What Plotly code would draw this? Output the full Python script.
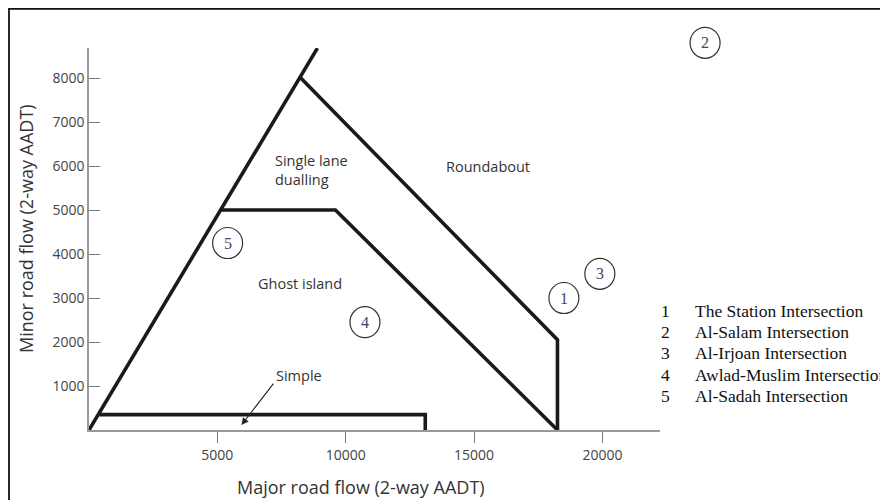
import plotly.graph_objects as go

# ---- data ----
diag_x = [0, 8900]
diag_y = [0, 8680]
round_x = [8250, 18250, 18250]
round_y = [8000, 2050, 0]
ghost_x = [5100, 9600, 18250]
ghost_y = [5000, 5000, 0]
simple_x = [400, 13100, 13100]
simple_y = [350, 350, 0]

site_ids = ["1", "2", "3", "4", "5"]
site_x = [18500, 24000, 19900, 10750, 5400]
site_y = [3000, 8800, 3550, 2450, 4250]
site_names = ["The Station Intersection", "Al-Salam Intersection", "Al-Irjoan Intersection",
              "Awlad-Muslim Intersection", "Al-Sadah Intersection"]

zone_labels = ["Single lane<br>dualling", "Roundabout", "Ghost island", "Simple"]
zone_x = [7180, 15560, 8230, 8190]
zone_y = [5909, 6000, 3340, 1250]
zone_anchor = ["left", "center", "center", "center"]

x_ticks = [5000, 10000, 15000, 20000]
x_tick_text = ["5000", "10000", "15000", "20000"]
y_ticks = [1000, 2000, 3000, 4000, 5000, 6000, 7000, 8000]
y_tick_text = ["1000", "2000", "3000", "4000", "5000", "6000", "7000", "8000"]

X_MAX = 22244
Y_MAX = 8682

LINE = dict(color="#1a1a1a", width=3.6)
SANS = "Open Sans"

fig = go.Figure()
for xs, ys in [(diag_x, diag_y), (round_x, round_y), (ghost_x, ghost_y), (simple_x, simple_y)]:
    fig.add_trace(go.Scatter(x=xs, y=ys, mode="lines", line=LINE, cliponaxis=False,
                             hoverinfo="skip", showlegend=False))

annotations = []
shapes = []

# circled site numbers (paper refs so that the one outside the axes is still shown)
for sid, sx, sy in zip(site_ids, site_x, site_y):
    xp, yp = sx / X_MAX, sy / Y_MAX
    shapes.append(dict(type="circle", xref="paper", yref="paper",
                       xsizemode="pixel", ysizemode="pixel", xanchor=xp, yanchor=yp,
                       x0=-15, x1=15, y0=-15.5, y1=15.5,
                       line=dict(color="#333333", width=1.2)))
    annotations.append(dict(x=xp, y=yp, xref="paper", yref="paper", text=sid,
                            showarrow=False, xanchor="center", yanchor="middle",
                            font=dict(family="Liberation Serif", size=16, color="#3b4766")))

for t, x, y, a in zip(zone_labels, zone_x, zone_y, zone_anchor):
    annotations.append(dict(x=x, y=y, xref="x", yref="y", text=t, showarrow=False,
                            xanchor=a, yanchor="middle", align="left",
                            font=dict(family=SANS, size=14.5, color="#333333")))
# arrow for Simple
annotations.append(dict(x=5940, y=114, xref="x", yref="y", ax=7230, ay=1090,
                        axref="x", ayref="y", text="", showarrow=True, arrowhead=2,
                        arrowsize=1.3, arrowwidth=1.1, arrowcolor="#222222"))
# axis titles
annotations.append(dict(x=(361 - 89) / 571, y=(430 - 487) / 382, xref="paper", yref="paper",
                        text="Major road flow (2-way AADT)", showarrow=False,
                        xanchor="center", yanchor="middle",
                        font=dict(family=SANS, size=18, color="#333333")))
annotations.append(dict(x=(26 - 89) / 571, y=(430 - 229) / 382, xref="paper", yref="paper",
                        text="Minor road flow (2-way AADT)", showarrow=False, textangle=-90,
                        xanchor="center", yanchor="middle",
                        font=dict(family=SANS, size=18, color="#333333")))
# key on the right
for i, (sid, name) in enumerate(zip(site_ids, site_names)):
    py = 311 + i * 21.2
    yp = (430 - py) / 382
    annotations.append(dict(x=(665 - 89) / 571, y=yp, xref="paper", yref="paper", text=sid,
                            showarrow=False, xanchor="center", yanchor="middle",
                            font=dict(family="Liberation Serif", size=17.5, color="#111111")))
    annotations.append(dict(x=(693 - 89) / 571, y=yp, xref="paper", yref="paper", text=name,
                            showarrow=False, xanchor="left", yanchor="middle",
                            font=dict(family="Liberation Serif", size=17.5, color="#111111")))

# outer frame (page body has an 8px margin, so the figure sits 8px down/right)
shapes.append(dict(type="rect", xref="paper", yref="paper",
                   x0=(9 - 89) / 571, x1=(900 - 89) / 571,
                   y0=(430 - 515) / 382, y1=(430 - 8.8) / 382,
                   line=dict(color="#111111", width=1.8), fillcolor="rgba(0,0,0,0)",
                   layer="below"))

fig.update_layout(
    width=880, height=492,
    margin=dict(l=81, r=228, t=40, b=70),
    paper_bgcolor="white", plot_bgcolor="white",
    showlegend=False,
    annotations=annotations,
    shapes=shapes,
    xaxis=dict(range=[0, X_MAX], showgrid=False, zeroline=False, showline=True,
               linecolor="#999999", linewidth=1.5, ticks="outside", ticklen=11,
               tickcolor="#777777", tickwidth=1.2, tickvals=x_ticks, ticktext=x_tick_text,
               tickfont=dict(family=SANS, size=14, color="#444444")),
    yaxis=dict(range=[0, Y_MAX], showgrid=False, zeroline=False, showline=True,
               linecolor="#999999", linewidth=1.5, ticks="inside", ticklen=11,
               tickcolor="#777777", tickwidth=1.2, tickvals=y_ticks, ticktext=y_tick_text,
               tickfont=dict(family=SANS, size=14, color="#444444")),
)

fig.write_html("out.html")
